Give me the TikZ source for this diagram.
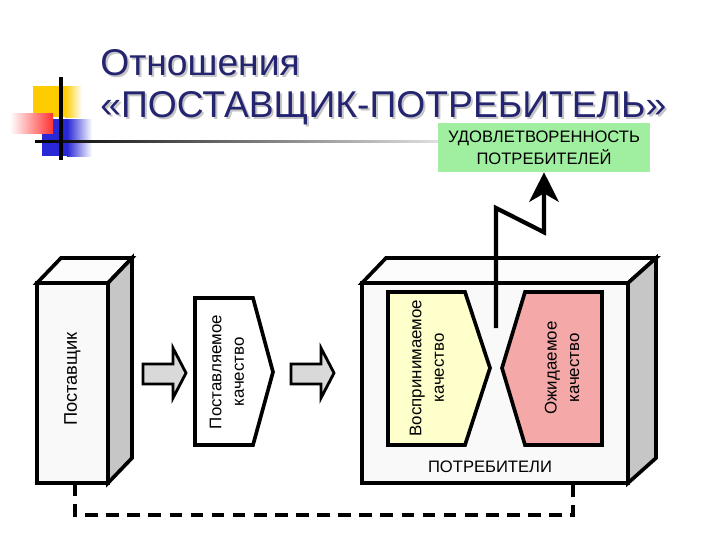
\documentclass[tikz,border=0pt]{standalone}
\usepackage{fontspec}
\setmainfont{Liberation Sans}
\usepackage{xcolor}
\usetikzlibrary{arrows.meta,positioning,calc}

\definecolor{titleblue}{RGB}{36,36,112}
\definecolor{satgreen}{RGB}{160,238,160}
\definecolor{percyellow}{RGB}{255,255,204}
\definecolor{exppink}{RGB}{244,168,168}
\definecolor{decoyellow}{RGB}{255,204,0}
\definecolor{decoblue}{RGB}{40,40,215}
\definecolor{decored}{RGB}{255,50,50}

\newcommand{\blockarrow}[1]{%
  \draw[blockarr] (#1,364) -- ++(30,0) -- ++(0,-16) -- ++(13,25) -- ++(-13,25) -- ++(0,-14) -- ++(-30,0) -- cycle;}

\begin{document}
\begin{tikzpicture}[
    x=0.025cm, y=-0.025cm,
    face/.style={draw, line width=2.6pt, line join=miter, fill=gray!5},
    topface/.style={face, fill=gray!2},
    sideface/.style={face, fill=gray!45},
    lbl/.style={font=\fontsize{12}{16}\selectfont, align=center, rotate=90, inner sep=0pt},
    blockarr/.style={draw, line width=2pt, line join=miter, fill=gray!30},
    sat/.style={fill=satgreen, minimum width=5.3cm, minimum height=1.225cm, align=center, inner sep=0pt, font=\fontsize{11.8}{15.5}\selectfont},
    zig/.style={line width=3pt, -{Stealth[length=21pt,width=21pt,inset=6pt]}},
    link/.style={line width=2.2pt, dash pattern=on 9pt off 6pt},
    title/.style={anchor=base west, inner sep=0pt, text=titleblue, font=\fontsize{26.5}{30}\selectfont},
    shadowtxt/.style={title, text=gray!45}
]
\useasboundingbox (0,0) rectangle (720,540);

% corner decoration
\fill[decoyellow] (33,86) rectangle (65,117);
\shade[left color=decoyellow, right color=white] (65,86) rectangle (82,117);
\fill[decoblue] (42,119) rectangle (67,156);
\shade[left color=decoblue, right color=white] (67,119) rectangle (92,156);
\shade[left color=white, right color=decored] (10,113) rectangle (53,133);
\shade[left color=black, right color=gray!25] (35,140) rectangle (438,142.5);
\draw[line width=2.2pt] (61,77) -- (61,160);

% title
\node[shadowtxt] at (102,77) {Отношения};
\node[shadowtxt] at (102,119) {«ПОСТАВЩИК-ПОТРЕБИТЕЛЬ»};
\node[title] (title1) at (100,75) {Отношения};
\node[title] (title2) at (100,117) {«ПОСТАВЩИК-ПОТРЕБИТЕЛЬ»};

% supplier box
\draw[topface] (37,283) -- (61,258) -- (132,258) -- (108,283) -- cycle;
\draw[sideface] (108,283) -- (132,258) -- (132,458) -- (108,483) -- cycle;
\draw[face] (37,283) rectangle (108,483);
\node[lbl, font=\fontsize{13}{16}\selectfont] (supplier) at (72.5,379) {Поставщик};
\coordinate (supfoot) at (75,483);

% delivered quality
\blockarrow{143}
\draw[face, fill=white] (195,298) -- (253,298) -- (273,372) -- (253,445) -- (195,445) -- cycle;
\node[lbl] (delivered) at (227,372) {Поставляемое\\качество};
\blockarrow{291}

% consumers box
\draw[topface] (362,283) -- (386,258) -- (656,258) -- (628,283) -- cycle;
\draw[sideface] (628,283) -- (656,258) -- (656,458) -- (628,483) -- cycle;
\draw[face] (362,283) rectangle (628,483);
\draw[face, fill=percyellow] (388,292) -- (465,292) -- (490,368) -- (465,445) -- (388,445) -- cycle;
\draw[face, fill=exppink] (525,292) -- (602,292) -- (602,445) -- (525,445) -- (502,368) -- cycle;
\node[lbl] (perceived) at (427,368) {Воспринимаемое\\качество};
\node[lbl] (expected) at (562,368) {Ожидаемое\\качество};
\node[font=\fontsize{11.8}{14}\selectfont, inner sep=0pt] (consumers) at (490,467) {ПОТРЕБИТЕЛИ};
\coordinate (consfoot) at (573,483);

% satisfaction
\node[sat] (satisf) at (544,147.5) {УДОВЛЕТВОРЕННОСТЬ\\ПОТРЕБИТЕЛЕЙ};
\coordinate (gap) at (496,328);
\draw[zig] (gap) -- (496,208) -- ($(satisf.south)+(0,60)$) -- (satisf.south);

% link
\draw[link] (supfoot) -- ++(0,32) -| (consfoot);
\end{tikzpicture}
\end{document}
